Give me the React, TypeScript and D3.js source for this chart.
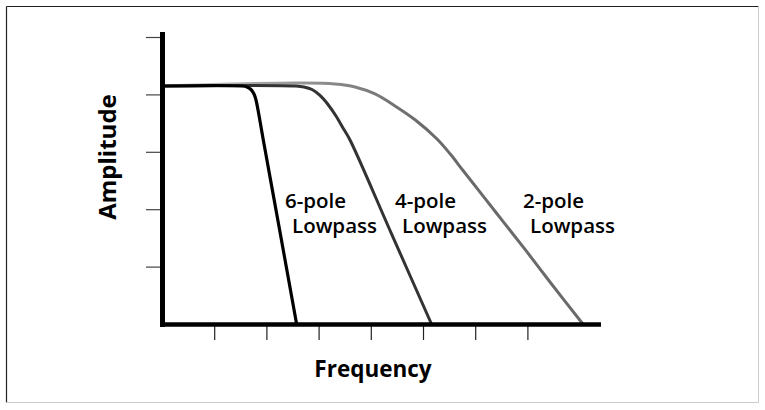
import React from "react";
import * as d3 from "d3";

const xTicks = [1, 2, 3, 4, 5, 6, 7];
const yTicks = [1, 2, 3, 4, 5];

const pole6X = [0, 1.523, 1.619, 1.695, 1.753, 1.791, 1.83, 1.931, 2.251, 2.571];
const pole6Y = [4.155, 4.155, 4.138, 4.094, 4.016, 3.911, 3.737, 3.214, 1.611, 0];

const pole4X = [0, 2.557, 2.711, 2.864, 3.017, 3.17, 3.324, 3.458, 3.592, 4.377, 5.157];
const pole4Y = [4.155, 4.155, 4.138, 4.094, 3.99, 3.833, 3.632, 3.423, 3.214, 1.601, 0];

const pole2X = [0, 1.293, 2.634, 3.305, 3.688, 4.071, 4.454, 4.856, 5.259, 5.517, 5.757, 6.389, 6.983, 7.423, 8.061];
const pole2Y = [4.155, 4.19, 4.207, 4.19, 4.138, 4.016, 3.807, 3.554, 3.232, 2.965, 2.683, 1.951, 1.264, 0.741, 0];

const labels6 = ["6-pole", "Lowpass"];
const labels4 = ["4-pole", "Lowpass"];
const labels2 = ["2-pole", "Lowpass"];

const FONT = "'Open Sans', 'Noto Sans', sans-serif";

export default function App() {
  const x = d3.scaleLinear().domain([0, 8.4]).range([162.5, 600.98]);
  const y = d3.scaleLinear().domain([0, 5]).range([324.5, 37.5]);
  const line = d3
    .line<[number, number]>()
    .x((d) => x(d[0]))
    .y((d) => y(d[1]))
    .curve(d3.curveCatmullRom.alpha(0.5));
  const zip = (a: number[], b: number[]) => a.map((v, i) => [v, b[i]] as [number, number]);

  const labelBlock = (lines: string[], x1: number, x2: number, y1: number) => (
    <g fontFamily={FONT} fontWeight={600} fontSize={20.5} fill="#000">
      <text x={x1} y={y1}>{lines[0]}</text>
      <text x={x2} y={y1 + 25}>{lines[1]}</text>
    </g>
  );

  return (
    <svg
      width={765}
      height={410}
      style={{ position: "absolute", left: 0, top: 0, background: "#fff" }}
    >
      <defs>
        <linearGradient id="g2" gradientUnits="userSpaceOnUse" x1={162} y1={0} x2={420} y2={0}>
          <stop offset="0" stopColor="#c8c8c8" />
          <stop offset="1" stopColor="#6a6a6a" />
        </linearGradient>
      </defs>
      {/* frame */}
      <line x1={6.5} y1={6.5} x2={758.5} y2={6.5} stroke="#222" strokeWidth={1.2} />
      <line x1={6.5} y1={6.5} x2={6.5} y2={402.5} stroke="#222" strokeWidth={1.2} />
      <line x1={758.5} y1={6.5} x2={758.5} y2={402.5} stroke="#ccc" strokeWidth={1} />
      <line x1={6.5} y1={402.5} x2={758.5} y2={402.5} stroke="#ccc" strokeWidth={1} />

      {/* ticks */}
      {yTicks.map((t) => (
        <line key={"y" + t} x1={146} x2={160} y1={y(t)} y2={y(t)} stroke="#444" strokeWidth={1.2} />
      ))}
      {xTicks.map((t) => (
        <line key={"x" + t} x1={x(t)} x2={x(t)} y1={326} y2={340} stroke="#222" strokeWidth={1.2} />
      ))}

      {/* curves */}
      <path d={line(zip(pole2X, pole2Y)) || ""} fill="none" stroke="url(#g2)" strokeWidth={3} />
      <path d={line(zip(pole4X, pole4Y)) || ""} fill="none" stroke="#333" strokeWidth={3} />
      <path d={line(zip(pole6X, pole6Y)) || ""} fill="none" stroke="#000" strokeWidth={3.2} />

      {/* axes */}
      <line x1={162.5} x2={162.5} y1={32} y2={327} stroke="#000" strokeWidth={5} />
      <line x1={160} x2={x(8.4)} y1={324.5} y2={324.5} stroke="#000" strokeWidth={4.5} />

      {labelBlock(labels6, 285, 292, 208)}
      {labelBlock(labels4, 395, 402, 208)}
      {labelBlock(labels2, 523, 530, 208)}

      <text
        x={373}
        y={377}
        textAnchor="middle"
        fontFamily={FONT}
        fontWeight={700}
        fontSize={22.5}
      >
        Frequency
      </text>
      <text
        transform={`translate(116,157) rotate(-90)`}
        textAnchor="middle"
        fontFamily={FONT}
        fontWeight={700}
        fontSize={24}
      >
        Amplitude
      </text>
    </svg>
  );
}
